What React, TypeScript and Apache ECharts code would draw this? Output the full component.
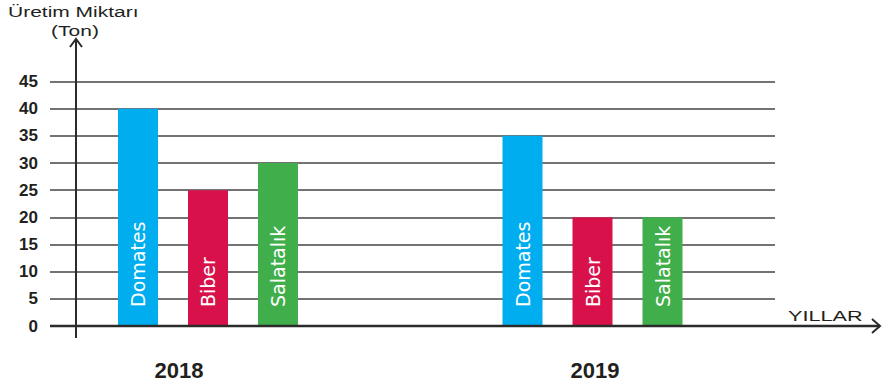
import React, { useEffect, useRef } from "react";
import * as echarts from "echarts";

const categories = ["2018", "2019"];
const seriesNames = ["Domates", "Biber", "Salatalık"];
const domates = [40, 35];
const biber = [25, 20];
const salatalik = [30, 20];
const seriesColors = ["#00AEEF", "#D9114A", "#40AE4A"];
const yMin = 0;
const yMax = 45;
const yStep = 5;

export default function App() {
  const ref = useRef<HTMLDivElement>(null);

  useEffect(() => {
    document.body.style.margin = "0";
    if (!ref.current) return;
    const chart = echarts.init(ref.current, undefined, { renderer: "svg" });
    const values = [domates, biber, salatalik];
    const top = 81.5;
    const bottom = 64;

    const option: any = {
      animation: false,
      backgroundColor: "#ffffff",
      grid: [
        { left: 50, right: 117, top, bottom },
        { left: 15.75, right: 107.25, top, bottom },
        { left: 179, right: 297, top, bottom },
      ],
      xAxis: [
        { gridIndex: 0, type: "category", data: categories, show: false },
        { gridIndex: 1, type: "category", data: categories, show: false },
        {
          gridIndex: 2,
          type: "category",
          data: categories,
          boundaryGap: false,
          axisLine: { show: false },
          axisTick: { show: false },
          axisLabel: {
            margin: 33,
            fontSize: 22,
            fontWeight: "bold",
            color: "#231f20",
            fontFamily: "Liberation Sans, Arial, sans-serif",
            interval: 0,
          },
        },
      ],
      yAxis: [
        {
          gridIndex: 0,
          type: "value",
          min: yMin,
          max: yMax,
          interval: yStep,
          axisLine: { show: false },
          axisTick: { show: false },
          axisLabel: {
            margin: 12,
            fontSize: 17,
            fontWeight: "bold",
            color: "#231f20",
            fontFamily: "Liberation Sans, Arial, sans-serif",
          },
          splitLine: { show: true, lineStyle: { color: "#444444", width: 1.5 } },
        },
        { gridIndex: 1, type: "value", min: yMin, max: yMax, interval: yStep, show: false, splitLine: { show: false } },
        { gridIndex: 2, type: "value", min: yMin, max: yMax, interval: yStep, show: false, splitLine: { show: false } },
      ],
      series: seriesNames.map((name, i) => ({
        name,
        type: "bar",
        xAxisIndex: 1,
        yAxisIndex: 1,
        data: values[i],
        barWidth: 40,
        barGap: "75%",
        itemStyle: { color: seriesColors[i] },
        label: {
          show: true,
          formatter: "{a}",
          position: "insideBottom",
          rotate: 90,
          align: "left",
          verticalAlign: "middle",
          distance: 19,
          color: "#ffffff",
          fontSize: 19,
          fontFamily: "DejaVu Sans, sans-serif",
        },
      })),
      graphic: [
        { type: "line", shape: { x1: 76, y1: 39, x2: 76, y2: 338 }, style: { stroke: "#2b2b2b", lineWidth: 2 }, z: 10 },
        { type: "polyline", shape: { points: [[70, 47], [76, 39], [82, 47]] }, style: { stroke: "#2b2b2b", lineWidth: 2, fill: null }, z: 10 },
        { type: "line", shape: { x1: 50, y1: 326, x2: 880, y2: 326 }, style: { stroke: "#2b2b2b", lineWidth: 2.5 }, z: 10 },
        { type: "polyline", shape: { points: [[872, 319], [880, 326], [872, 333]] }, style: { stroke: "#2b2b2b", lineWidth: 2, fill: null }, z: 10 },
        {
          type: "text",
          x: 8,
          y: 12,
          scaleX: 1.4,
          style: { text: "Üretim Miktarı", font: "15px 'Liberation Sans', Arial, sans-serif", fill: "#231f20", textAlign: "left", textVerticalAlign: "middle" },
          z: 10,
        },
        {
          type: "text",
          x: 75,
          y: 31,
          scaleX: 1.4,
          style: { text: "(Ton)", font: "15px 'Liberation Sans', Arial, sans-serif", fill: "#231f20", textAlign: "center", textVerticalAlign: "middle" },
          z: 10,
        },
        {
          type: "text",
          x: 788,
          y: 316,
          scaleX: 1.55,
          style: { text: "YILLAR", font: "14px 'Liberation Sans', Arial, sans-serif", fill: "#231f20", textAlign: "left", textVerticalAlign: "middle" },
          z: 10,
        },
      ],
    };

    chart.setOption(option);
    return () => chart.dispose();
  }, []);

  return <div ref={ref} style={{ width: 892, height: 390 }} />;
}
